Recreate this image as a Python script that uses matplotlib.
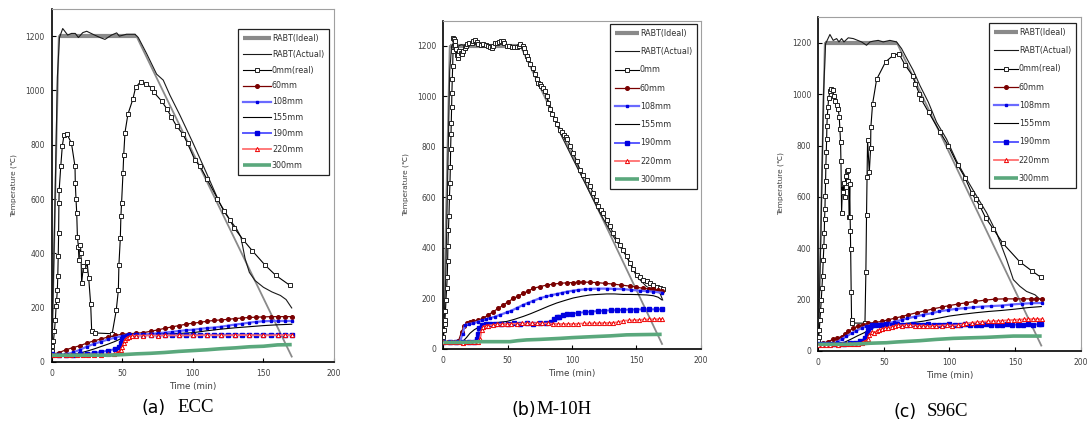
import matplotlib
matplotlib.use("Agg")
import matplotlib.pyplot as plt

# ---------------- Panel (a) ECC ----------------
A_IDEAL_T = [0, 5, 60, 170]
A_IDEAL_V = [20, 1200, 1200, 20]
A_ACT_T = [0, 2, 4, 5.5, 7.8, 11.3, 14, 16.7, 18.9, 22, 24.8, 29.5, 34.2, 37.7, 42.4, 46, 47.9, 53, 59, 61.3,
           67.2, 74.3, 79, 83.7, 90.8, 100.2, 109.7, 119, 126, 131, 134, 137, 140, 144, 150, 156, 162, 166, 170]
A_ACT_V = [20, 500, 1050, 1195, 1228, 1204, 1210, 1210, 1195, 1213, 1218, 1206, 1195, 1188, 1204, 1212, 1200, 1207, 1207, 1195,
           1136, 1060, 1038, 983, 909, 805, 695, 585, 525, 490, 460, 380, 330, 300, 275, 258, 245, 230, 199]
A_0_T = [0, 0.5, 1.2, 1.9, 2.6, 3.1, 3.5, 4, 4.3, 4.6, 4.9, 5.1, 5.3, 6.4, 7.5, 8.7, 11, 14, 16.5, 16.7, 17.2, 17.7,
         18.2, 18.9, 19.3, 20.3, 20.7, 21.2, 22.4, 23.8, 25, 26.2, 27.6, 28.3, 30.7, 42.8, 45.7, 47.2, 47.6, 48.6,
         49, 49.5, 50.5, 51, 51.9, 54, 57.5, 59.4, 63, 67, 70.7, 72.4, 78, 81.8, 84.7, 88.4, 93.1, 96.2, 101.4,
         105.2, 109.9, 117.4, 121.9, 126.2, 129.2, 135.6, 142.2, 150.9, 158.7, 168.8]
A_0_V = [39, 58, 76, 113, 156, 205, 229, 266, 317, 389, 474, 587, 634, 720, 795, 836, 838, 805, 720, 660, 600, 550,
         462, 423, 376, 431, 401, 290, 352, 340, 370, 309, 213, 115, 107, 104, 190, 264, 358, 456,
         536, 587, 697, 762, 845, 913, 968, 1011, 1032, 1023, 1010, 993, 960, 930, 903, 869, 838, 805, 744,
         720, 674, 602, 556, 523, 494, 450, 409, 358, 319, 282]
A_60_T = [0, 5, 10, 15, 20, 25, 30, 35, 40, 45, 50, 55, 60, 65, 70, 75, 80, 85, 90, 95, 100, 105, 110, 115, 120,
          125, 130, 135, 140, 145, 150, 155, 160, 165, 170]
A_60_V = [28, 34, 45, 53, 60, 70, 78, 85, 92, 98, 102, 104, 106, 108, 113, 118, 124, 129, 134, 139, 143, 146, 150,
          153, 155, 157, 160, 162, 164, 165, 166, 167, 167, 167, 167]
A_108_T = [0, 5, 10, 15, 20, 25, 30, 35, 40, 45, 50, 55, 60, 65, 70, 75, 80, 85, 90, 95, 100, 105, 110, 115, 120,
           125, 130, 135, 140, 145, 150, 155, 160, 165, 170]
A_108_V = [25, 25, 28, 35, 45, 57, 67, 75, 83, 90, 96, 99, 100, 101, 103, 106, 108, 111, 114, 117, 119, 122, 125,
           127, 130, 134, 138, 141, 145, 148, 150, 151, 151, 151, 151]
A_155_T = [0, 10, 15, 20, 25, 30, 35, 40, 45, 50, 55, 60, 70, 80, 90, 100, 110, 120, 130, 140, 150, 160, 170]
A_155_V = [25, 25, 27, 33, 40, 48, 57, 66, 76, 88, 95, 99, 101, 103, 105, 108, 115, 121, 126, 130, 134, 137, 139]
A_190_T = [0, 5, 10, 15, 20, 25, 30, 35, 40, 45, 48, 49, 50, 51, 53, 55, 60, 65, 70, 75, 80, 85, 90, 95, 100,
           105, 110, 115, 120, 125, 130, 135, 140, 145, 150, 155, 160, 165, 170]
A_190_V = [28, 27, 26, 27, 28, 30, 33, 37, 42, 48, 55, 70, 85, 93, 97, 99, 100, 100, 100, 100, 100, 101, 100, 100,
           100, 101, 100, 100, 100, 101, 100, 101, 100, 100, 100, 101, 100, 100, 100]
A_220_T = [0, 2, 5, 10, 14, 18, 22, 26, 30, 35, 40, 44, 46, 48, 49, 50, 51, 52, 53, 55, 57, 60, 65, 70, 75, 80,
           90, 100, 110, 120, 130, 140, 150, 160, 165, 170]
A_220_V = [25, 26, 25, 27, 24, 26, 26, 27, 27, 26, 28, 30, 33, 38, 45, 55, 70, 82, 88, 92, 96, 97, 97, 98, 97, 98,
           98, 98, 99, 98, 99, 99, 98, 99, 99, 99]
A_300_T = [0, 10, 20, 30, 40, 45, 50, 60, 70, 80, 90, 100, 110, 120, 130, 140, 150, 160, 170]
A_300_V = [25, 25, 25, 25, 25, 26, 27, 30, 32, 35, 39, 42, 45, 49, 52, 56, 58, 63, 64]

# ---------------- Panel (b) M-10H ----------------
B_IDEAL_T = [0, 5, 60, 170]
B_IDEAL_V = [20, 1200, 1200, 20]
B_ACT_T = [0, 2, 3.5, 5, 6.5, 8, 10, 14, 18, 22, 26, 30, 35, 40, 45, 50, 55, 60, 62.2, 70, 80.3, 90.7, 101, 111.4,
           121.8, 132.1, 142.5, 150.3, 158, 163.2, 168.4, 170.5]
B_ACT_V = [25, 300, 700, 1100, 1200, 1210, 1195, 1205, 1200, 1210, 1205, 1200, 1198, 1205, 1207, 1200, 1198, 1200,
           1187, 1107, 1001, 856, 750, 644, 538, 446, 366, 287, 247, 234, 221, 194]
B_0_T = [0, 0.5, 1, 1.3, 1.7, 2.1, 2.6, 3.1, 3.4, 3.6, 4, 4.4, 4.8, 5.2, 5.5, 5.7, 6, 6.2, 6.5, 6.7, 7, 7.3, 7.6,
         7.8, 8.3, 8.8, 9.3, 9.8, 10.5, 11.1, 11.8, 12.4, 13.4, 14.3, 15.5, 16.8, 17.8, 18.7, 20, 22, 23.3, 24.6,
         26, 27.2, 29, 31.1, 33, 35, 36.5, 37.6, 39, 40.2, 42, 43.5, 45, 46.1, 47.5, 49.2, 51, 53.1, 55, 57, 58.5,
         59.6, 61.7, 62.5, 63.5, 64.8, 66, 67.7, 69.4, 71, 72.5, 74, 75.1, 76, 77.2, 78.8, 80.3, 81.6, 82.9, 84.8,
         86.8, 88.7, 90.7, 92.2, 93.8, 95, 96.4, 98.7, 101, 103.6, 106.2, 108.8, 111.4, 114, 116.6, 118.5, 120.5,
         122.5, 124.4, 127, 129.5, 132, 134.7, 137.3, 139.9, 142.5, 145.1, 147.7, 150.3, 152.9, 155.5, 158, 160.6,
         163.2, 165.8, 168.2, 170.5]
B_0_V = [49, 75, 100, 115, 150, 194, 240, 287, 350, 406, 470, 525, 600, 657, 720, 790, 850, 896, 960, 1015, 1070,
         1120, 1180, 1233, 1228, 1220, 1205, 1187, 1165, 1154, 1165, 1180, 1172, 1167, 1180, 1193, 1200, 1206, 1210,
         1213, 1218, 1224, 1215, 1206, 1203, 1206, 1204, 1200, 1196, 1193, 1200, 1210, 1213, 1216, 1218, 1220, 1210,
         1200, 1198, 1197, 1196, 1197, 1200, 1206, 1200, 1190, 1176, 1160, 1147, 1130, 1114, 1090, 1068, 1055, 1048,
         1042, 1035, 1020, 1001, 975, 949, 930, 909, 890, 869, 860, 849, 840, 830, 805, 777, 745, 710, 690, 671, 645,
         618, 590, 565, 550, 538, 512, 486, 460, 433, 413, 393, 367, 340, 317, 294, 284, 274, 268, 261, 254, 247, 242,
         237]
B_60_T = [0, 4, 8, 11.7, 14.3, 16, 18.2, 20.5, 23.3, 27, 31.1, 35, 38.9, 42.8, 46.6, 50.5, 54.4, 58.3, 62.2, 66,
          70, 75, 80.3, 85.5, 90.7, 96, 101, 105, 108.8, 114, 119.2, 125.5, 132, 138.5, 145, 150, 155.4, 160, 163,
          166.5, 169.7]
B_60_V = [28, 28, 28, 30, 69, 90, 102, 105, 109, 114, 122, 135, 148, 161, 174, 187, 200, 210, 220, 230, 240, 247,
          253, 257, 260, 262, 263, 264, 265, 264, 263, 260, 257, 253, 249, 245, 240, 238, 236, 233, 230]
B_108_T = [0, 5, 10, 13, 15, 16.9, 20, 23.3, 27, 30, 33, 36.3, 40, 44, 49.3, 53, 57, 62.2, 66, 70, 75.1, 80, 84,
           88.1, 92, 96, 101, 105, 110, 114, 120, 127, 133, 139.9, 146, 152.8, 158, 163.2, 169.7]
B_108_V = [28, 28, 28, 29, 60, 95, 99, 102, 108, 113, 117, 122, 128, 135, 145, 152, 162, 175, 183, 191, 201, 208,
           213, 218, 222, 227, 231, 234, 236, 238, 239, 239, 238, 237, 234, 231, 229, 227, 223]
B_155_T = [0, 10, 15, 18, 20.7, 24, 28.5, 32, 36.3, 42, 49.3, 55, 62.2, 68, 75.1, 82, 88.1, 95, 101, 108, 114,
           120, 127, 133, 139.9, 146, 152.8, 158, 163.2, 167, 169.7]
B_155_V = [28, 28, 29, 45, 62, 76, 89, 97, 102, 105, 109, 117, 129, 140, 155, 170, 182, 193, 202, 209, 214, 216,
           218, 218, 216, 216, 215, 214, 211, 205, 195]
B_190_T = [0, 5, 10, 15, 20, 24, 26, 27, 28, 30, 33, 36, 40, 45, 50, 55, 60, 65, 70, 75, 80, 84, 86, 88, 90, 93,
           96, 100, 105, 110, 115, 120, 125, 130, 135, 140, 145, 150, 155, 160, 165, 170]
B_190_V = [28, 28, 28, 28, 28, 29, 40, 60, 85, 95, 97, 98, 100, 100, 100, 101, 100, 101, 100, 101, 102, 105, 120,
           125, 128, 133, 137, 140, 143, 146, 148, 150, 152, 153, 154, 155, 156, 156, 157, 157, 157, 157]
B_220_T = [0, 3, 6, 9, 12, 15, 18, 21, 24, 27, 28.5, 29.8, 31.1, 33, 35, 38.9, 42, 46, 49.3, 53, 57, 61, 65, 69,
           73, 77, 81, 85, 89, 93, 97, 101, 105, 109, 113, 117, 121, 125, 129, 132, 136, 140, 144, 148, 152, 156,
           160, 164, 168, 170]
B_220_V = [27, 26, 27, 26, 27, 25, 26, 27, 26, 28, 40, 75, 89, 91, 93, 95, 97, 98, 99, 100, 100, 101, 101, 102,
           102, 101, 101, 100, 99, 99, 99, 99, 100, 101, 101, 102, 102, 103, 103, 104, 106, 112, 113, 114, 115, 117,
           117, 118, 118, 118]
B_300_T = [0, 10, 20, 28.5, 40, 51.8, 58, 64.8, 75, 90.7, 100, 116.6, 130, 142.5, 155, 169.7]
B_300_V = [26, 26, 27, 29, 29, 29, 33, 36, 38, 42, 45, 49, 52, 56, 57, 58]

# ---------------- Panel (c) S96C ----------------
C_IDEAL_T = [0, 5, 60, 170]
C_IDEAL_V = [20, 1200, 1200, 20]
C_ACT_T = [0, 2, 4, 5.6, 8.9, 11.4, 14, 15.8, 17.8, 19.6, 22.9, 26.7, 33, 36.8, 39.4, 41.9, 45.7, 49.5, 54.6,
           59.7, 63.5, 67.3, 72.4, 77.5, 83.9, 90.2, 97.8, 105.4, 113.1, 120.7, 128.3, 135.9, 143.6, 148.7, 153.7,
           158.8, 165.2, 169.5]
C_ACT_V = [25, 450, 1000, 1197, 1233, 1210, 1217, 1204, 1217, 1204, 1220, 1217, 1204, 1191, 1204, 1207, 1210,
           1204, 1210, 1204, 1178, 1141, 1093, 1034, 969, 891, 825, 740, 669, 603, 538, 460, 355, 277, 251, 231, 218,
           198]
C_0_T = [0, 0.3, 0.8, 1.3, 1.8, 2.3, 2.8, 3.3, 3.8, 4.3, 4.6, 4.8, 5.1, 5.3, 5.6, 5.8, 6.1, 6.4, 6.6, 6.9, 7.4,
         7.9, 8.9, 9.7, 10.9, 11.9, 13, 14.5, 15.2, 16, 16.5, 17, 17.3, 17.8, 18.5, 19.2, 19.8, 20.5, 21, 21.5, 22,
         22.5, 23, 23.5, 24, 24.3, 24.5, 24.7, 25.1, 25.4, 26, 35.6, 36.3, 36.8, 37.2, 37.6, 38.9, 39.9, 40.1, 41.4,
         44.5, 51.3, 57.2, 61.5, 66.3, 71.9, 74, 77, 78.3, 84.1, 92.7, 99.1, 106.2, 111.8, 116.9, 119.9, 123.2,
         127.6, 133.4, 140.5, 153.7, 162.6, 169.5]
C_0_V = [40, 55, 81, 120, 159, 198, 244, 290, 355, 407, 460, 512, 551, 603, 662, 721, 773, 825, 877, 917, 949,
         985, 1011, 1021, 1015, 995, 973, 958, 943, 910, 864, 812, 740, 538, 650, 620, 655, 600, 680, 640, 700, 660,
         705, 520, 650, 520, 465, 395, 230, 120, 108, 107, 306, 528, 678, 823, 695, 789, 871, 962, 1058, 1126,
         1152, 1158, 1113, 1073, 1041, 1002, 982, 930, 854, 799, 725, 675, 616, 590, 564, 518, 475, 420, 346, 312,
         287]
C_60_T = [0, 4, 7.6, 11.4, 14.5, 17.8, 20.5, 22.9, 26.5, 30.5, 34, 38.1, 43, 48.3, 53, 58.5, 63.5, 68.6, 75,
          81.3, 87.5, 94.1, 100, 106.7, 113, 119.4, 127, 134.7, 142, 150, 156, 162, 166, 170.3]
C_60_V = [25, 30, 35, 45, 49, 55, 64, 75, 87, 97, 102, 107, 110, 114, 120, 127, 133, 140, 148, 155, 163, 170, 176,
          182, 187, 192, 197, 201, 202, 202, 202, 202, 202, 202]
C_108_T = [0, 5, 10, 14, 17.8, 21.5, 25.5, 29, 33.1, 36.5, 40.7, 46, 53.4, 58, 63.6, 68, 73.7, 80, 86.4, 92,
           99.1, 105, 111.8, 118, 124.5, 132, 139.8, 147, 155, 162, 170.3]
C_108_V = [25, 25, 26, 32, 45, 56, 68, 78, 88, 95, 101, 104, 107, 113, 120, 126, 133, 140, 146, 153, 159, 163,
           166, 169, 172, 174, 176, 180, 183, 185, 186]
C_155_T = [0, 10, 15, 20, 25, 30, 35, 40, 45, 50, 60, 70, 80, 90, 100, 110, 120, 130, 140, 150, 160, 170]
C_155_V = [25, 25, 27, 33, 45, 58, 70, 85, 95, 100, 103, 108, 115, 125, 135, 142, 148, 153, 157, 162, 168, 172]
C_190_T = [0, 4, 8, 12, 16, 20, 24, 28, 32, 35.6, 37, 38.1, 39.5, 40.7, 44, 48, 52, 56, 60, 64, 68, 72, 76, 80,
           84, 88, 92, 96, 100, 104, 108, 112, 116, 120, 124, 128, 132, 136, 140, 144, 148, 152, 156, 160, 164, 168,
           170]
C_190_V = [28, 27, 28, 27, 28, 28, 29, 31, 36, 49, 65, 81, 93, 101, 102, 101, 103, 102, 103, 101, 100, 103, 102,
           101, 103, 102, 101, 102, 103, 102, 101, 103, 102, 101, 102, 103, 102, 101, 102, 103, 102, 101, 102, 103,
           102, 103, 103]
C_220_T = [0, 3, 6, 9, 12, 15, 18, 21, 24, 27, 30, 33, 35, 36.5, 38, 39, 40.7, 42.5, 44.5, 46.5, 48.3, 50.5, 53.4,
           56, 58.5, 61, 64, 67, 70, 73.7, 77, 80, 83, 86.4, 90, 94, 98, 102, 106.7, 110, 113, 116.9, 121, 125,
           129.6, 133, 137, 140, 144.9, 149, 153, 157, 160.1, 164, 167, 170.3]
C_220_V = [24, 23, 24, 23, 25, 24, 26, 25, 27, 26, 28, 30, 33, 38, 45, 60, 74, 68, 76, 80, 84, 87, 90, 93, 97, 99,
           98, 100, 99, 98, 97, 98, 96, 96, 97, 98, 99, 98, 99, 103, 106, 109, 111, 113, 114, 115, 116, 117, 119, 120,
           121, 122, 123, 123, 123, 123]
C_300_T = [0, 10, 20, 30, 39.4, 45, 52, 60, 77.5, 90, 102.9, 115, 128.3, 140, 148.7, 160, 170.3]
C_300_V = [25, 25, 25, 26, 29, 30, 31, 34, 39, 44, 48, 50, 52, 55, 57, 57, 57]

LABELS_A = ["RABT(Ideal)", "RABT(Actual)", "0mm(real)", "60mm", "108mm", "155mm", "190mm", "220mm", "300mm"]
LABELS_B = ["RABT(Ideal)", "RABT(Actual)", "0mm", "60mm", "108mm", "155mm", "190mm", "220mm", "300mm"]
LABELS_C = ["RABT(Ideal)", "RABT(Actual)", "0mm(real)", "60mm", "108mm", "155mm", "190mm", "220mm", "300mm"]

plt.rcParams['font.family'] = ['DejaVu Sans', 'Noto Sans CJK KR']

fig = plt.figure(figsize=(10.91, 4.22), dpi=100)

IDEAL_COLOR = '#8a8a8a'
STYLES = [
    dict(color=IDEAL_COLOR, lw=3.0, solid_capstyle='butt'),
    dict(color='#1a1a1a', lw=0.8),
    dict(color='black', lw=0.8, marker='s', ms=3.2, mfc='white', mec='#222222', mew=0.7),
    dict(color='#7a0000', lw=0.9, marker='o', ms=2.6, mfc='#7a0000', mec='#7a0000'),
    dict(color='#6a6aff', lw=1.6, marker='s', ms=1.8, mfc='#0000e0', mec='#0000e0'),
    dict(color='black', lw=0.8),
    dict(color='#5a5aff', lw=1.4, marker='s', ms=2.4, mfc='#0000e0', mec='#0000e0'),
    dict(color='#ff7070', lw=1.3, marker='^', ms=3.0, mfc='white', mec='#ee0000', mew=0.7),
    dict(color='#5aa87c', lw=2.6, solid_capstyle='butt'),
]


def panel(rect, data, labels, leg_anchor, leg_spacing, leg_handle):
    ax = fig.add_axes(rect)
    # ideal curve: thin full profile, thick plateau (labelled)
    ti, vi = data[0]
    ax.plot(ti, vi, color=IDEAL_COLOR, lw=1.3, zorder=2)
    for i, ((t, v), lab, st) in enumerate(zip(data, labels, STYLES)):
        if i == 0:
            ax.plot(t[1:3], v[1:3], label=lab, zorder=2, **st)
        else:
            ax.plot(t, v, label=lab, zorder=3, **st)
    ax.set_xlim(0, 200)
    ax.set_ylim(0, 1300)
    ax.set_xticks([0, 50, 100, 150, 200])
    ax.set_yticks([0, 200, 400, 600, 800, 1000, 1200])
    ax.tick_params(direction='in', length=3, width=0.8, labelsize=5.5, labelcolor='#404040', pad=5)
    for s in ('left', 'bottom'):
        ax.spines[s].set_color('black')
        ax.spines[s].set_linewidth(1.2)
    for s in ('top', 'right'):
        ax.spines[s].set_color('#a0a0a0')
        ax.spines[s].set_linewidth(0.8)
    ax.set_xlabel('Time (min)', fontsize=6.3, color='#404040', labelpad=3)
    ax.set_ylabel('Temperature (℃)', fontsize=5.3, color='#404040', labelpad=6)
    leg = ax.legend(loc='upper right', bbox_to_anchor=leg_anchor, fontsize=5.8, fancybox=False,
                    edgecolor='#222222', framealpha=1, labelspacing=leg_spacing, handlelength=leg_handle,
                    handletextpad=0.1, borderpad=0.6, borderaxespad=0)
    leg.get_frame().set_linewidth(0.9)
    leg.set_zorder(5)
    for tx in leg.get_texts():
        tx.set_color('#303030')
    return ax


data_a = [(A_IDEAL_T, A_IDEAL_V), (A_ACT_T, A_ACT_V), (A_0_T, A_0_V), (A_60_T, A_60_V), (A_108_T, A_108_V),
          (A_155_T, A_155_V), (A_190_T, A_190_V), (A_220_T, A_220_V), (A_300_T, A_300_V)]
data_b = [(B_IDEAL_T, B_IDEAL_V), (B_ACT_T, B_ACT_V), (B_0_T, B_0_V), (B_60_T, B_60_V), (B_108_T, B_108_V),
          (B_155_T, B_155_V), (B_190_T, B_190_V), (B_220_T, B_220_V), (B_300_T, B_300_V)]
data_c = [(C_IDEAL_T, C_IDEAL_V), (C_ACT_T, C_ACT_V), (C_0_T, C_0_V), (C_60_T, C_60_V), (C_108_T, C_108_V),
          (C_155_T, C_155_V), (C_190_T, C_190_V), (C_220_T, C_220_V), (C_300_T, C_300_V)]

panel([0.0474, 0.1422, 0.2588, 0.8365], data_a, LABELS_A, (0.982, 0.943), 0.85, 3.5)
panel([0.4063, 0.1730, 0.2359, 0.7780], data_b, LABELS_B, (0.986, 0.990), 1.15, 3.0)
panel([0.7500, 0.1690, 0.2405, 0.7900], data_c, LABELS_C, (0.982, 0.983), 1.15, 3.0)

# captions
cap_y = [1 - 408 / 422, 1 - 410 / 422, 1 - 412 / 422]
fig.text(166 / 1091, cap_y[0], '(a)', ha='right', va='center', fontsize=12.5, family='DejaVu Sans')
fig.text(177 / 1091, cap_y[0], 'ECC', ha='left', va='center', fontsize=13.5, family='Liberation Serif')
fig.text(536 / 1091, cap_y[1], '(b)', ha='right', va='center', fontsize=12.5, family='DejaVu Sans')
fig.text(536 / 1091, cap_y[1], 'M-10H', ha='left', va='center', fontsize=13.5, family='Liberation Serif')
fig.text(917 / 1091, cap_y[2], '(c)', ha='right', va='center', fontsize=12.5, family='DejaVu Sans')
fig.text(927 / 1091, cap_y[2], 'S96C', ha='left', va='center', fontsize=13.5, family='Liberation Serif')

fig.savefig('out.png', dpi=100)
